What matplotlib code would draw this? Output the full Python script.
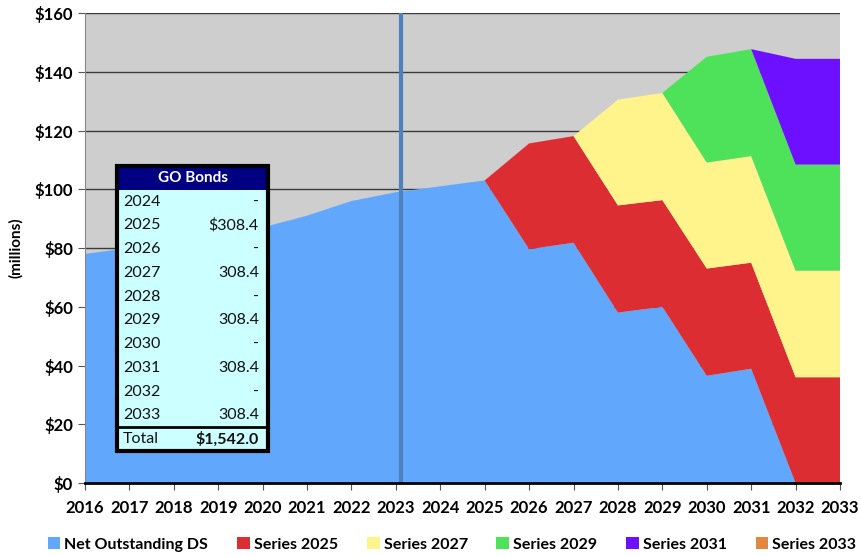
import matplotlib.pyplot as plt
from matplotlib.patches import Rectangle

plt.rcParams['font.family'] = ['Lato', 'DejaVu Sans']

years = list(range(2016, 2034))
net_outstanding = [78, 80, 82, 84.5, 87, 91, 96, 99, 101, 103,
                   79.6, 81.8, 58.0, 60.0, 36.5, 38.9, 0, 0]
series_2025 = [0]*9 + [0, 36.0, 36.3, 36.5, 36.3, 36.5, 36.1, 36.0, 36.0]
series_2027 = [0]*11 + [0, 36.0, 36.5, 36.1, 36.3, 36.3, 36.3]
series_2029 = [0]*13 + [0, 36.0, 36.4, 36.1, 36.1]
series_2031 = [0]*15 + [0, 36.0, 36.0]
series_2033 = [0]*18

series_names = ['Net Outstanding DS', 'Series 2025', 'Series 2027',
                'Series 2029', 'Series 2031', 'Series 2033']
colors = ['#61a8fd', '#dc2d33', '#fff38c', '#4de259', '#6d10ff', '#e0883f']

table_years = ['2024', '2025', '2026', '2027', '2028', '2029',
               '2030', '2031', '2032', '2033']
table_values = ['-', '$308.4', '-', '308.4', '-', '308.4', '-', '308.4', '-', '308.4']
table_total = '$1,542.0'

vline_x = 2023.12

fig = plt.figure(figsize=(8.61, 5.56), dpi=100)
ax = fig.add_axes([0.0987, 0.1313, 0.8769, 0.8453])
ax.set_facecolor('#cecece')

ax.stackplot(years, net_outstanding, series_2025, series_2027, series_2029,
             series_2031, series_2033, colors=colors, labels=series_names, zorder=2)
ax.axvline(vline_x, color='#4f81bd', lw=3, zorder=3)

ax.set_xlim(2016, 2033)
ax.set_ylim(0, 160)
ax.set_xticks(years)
ax.set_yticks(range(0, 161, 20))
ax.set_yticklabels(['$' + str(v) for v in range(0, 161, 20)])
ax.grid(axis='y', color='#3a3a3a', lw=1.0, zorder=1)
ax.set_axisbelow(True)
ax.tick_params(axis='both', direction='out', length=5, labelsize=12, color='#555555')
for lab in ax.get_xticklabels() + ax.get_yticklabels():
    lab.set_fontweight('bold')
ax.tick_params(axis='x', pad=7)
ax.set_ylabel('(millions)', fontsize=11, fontweight='bold', labelpad=8)
for s in ['top', 'right']:
    ax.spines[s].set_visible(False)
ax.spines['left'].set_color('#888888')
ax.spines['bottom'].set_color('black')
ax.spines['bottom'].set_linewidth(2)
ax.spines['bottom'].set_zorder(4)

leg = fig.legend(loc='lower center', bbox_to_anchor=(0.525, -0.018), ncol=6, frameon=False,
                 handlelength=0.8, handleheight=0.8, handletextpad=0.25,
                 columnspacing=1.8, prop={'weight': 'bold', 'size': 11.5})

# GO Bonds table
tab = fig.add_axes([0.1359, 0.1888, 0.1754, 0.5126])
tab.set_xlim(0, 1)
tab.set_ylim(0, 12)
tab.axis('off')
tab.add_patch(Rectangle((0, 0), 1, 12, facecolor='#ccffff', edgecolor='none'))
tab.add_patch(Rectangle((0, 11), 1, 1, facecolor='#000080', edgecolor='none'))
tab.text(0.5, 11.5, 'GO Bonds', color='white', fontsize=11, fontweight='bold',
         ha='center', va='center')
for i, (yr, val) in enumerate(zip(table_years, table_values)):
    yy = 10.5 - i
    tab.text(0.04, yy, yr, fontsize=11.5, ha='left', va='center', color='#111111')
    tab.text(0.94, yy, val, fontsize=11.5, ha='right', va='center', color='#111111')
tab.plot([0, 1], [1, 1], color='black', lw=2)
tab.text(0.04, 0.5, 'Total', fontsize=11.5, ha='left', va='center', color='#111111')
tab.text(0.94, 0.5, table_total, fontsize=11.5, ha='right', va='center',
         fontweight='bold', color='#111111')
tab.add_patch(Rectangle((0, 0), 1, 12, facecolor='none', edgecolor='black', lw=3, clip_on=False))

fig.savefig('out.png', dpi=100)
